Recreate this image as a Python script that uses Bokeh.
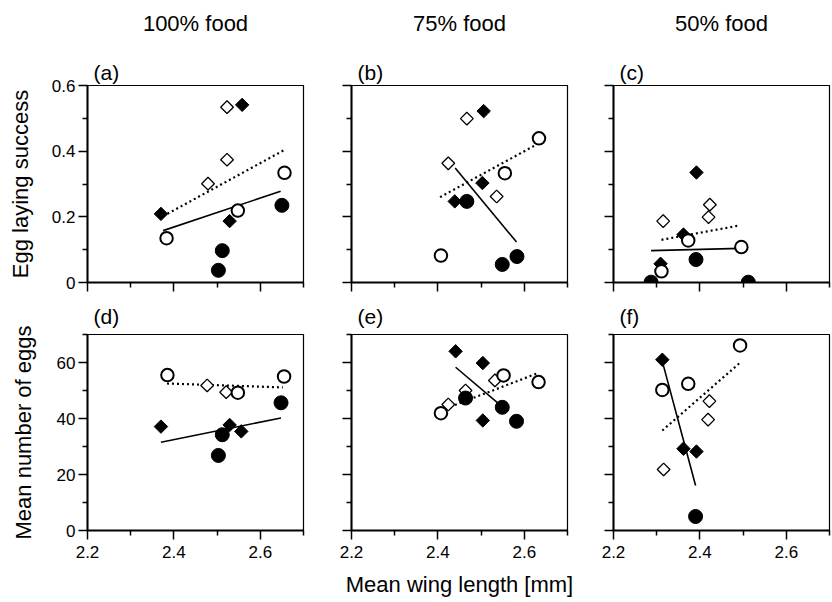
import math
from bokeh.plotting import figure
from bokeh.layouts import row, column
from bokeh.models import FixedTicker, Title
from bokeh.embed import file_html
from bokeh.resources import INLINE

FONT = "Liberation Sans"

# ---------------- text ----------------
col_titles = ["100% food", "75% food", "50% food"]
panel_labels = ["(a)", "(b)", "(c)", "(d)", "(e)", "(f)"]
y_titles = ["Egg laying success", "Mean number of eggs"]
x_title = "Mean wing length [mm]"

# ---------------- ticks ----------------
x_ticks = [2.2, 2.4, 2.6]
x_minor = [2.3, 2.5, 2.7]
top_y_ticks = [0, 0.2, 0.4, 0.6]
top_y_labels = ["0", "0.2", "0.4", "0.6"]
top_y_minor = [0.1, 0.3, 0.5]
bot_y_ticks = [0, 20, 40, 60]
bot_y_labels = ["0", "20", "40", "60"]
bot_y_minor = [10, 30, 50, 70]

# ---------------- data (oc = open circle, fc = filled circle,
#                  od = open diamond, fd = filled diamond,
#                  sl = solid fit line, dl = dotted fit line) ----------------
a_oc_x, a_oc_y = [2.383, 2.548, 2.656], [0.135, 0.219, 0.334]
a_fc_x, a_fc_y = [2.650, 2.512, 2.503], [0.235, 0.097, 0.037]
a_od_x, a_od_y = [2.523, 2.523, 2.479], [0.534, 0.374, 0.301]
a_fd_x, a_fd_y = [2.370, 2.558, 2.529], [0.209, 0.541, 0.187]
a_sl_x, a_sl_y = [2.375, 2.647], [0.158, 0.278]
a_dl_x, a_dl_y = [2.375, 2.659], [0.202, 0.406]

b_oc_x, b_oc_y = [2.634, 2.555, 2.407], [0.439, 0.333, 0.082]
b_fc_x, b_fc_y = [2.467, 2.549, 2.583], [0.247, 0.055, 0.079]
b_od_x, b_od_y = [2.467, 2.424, 2.536], [0.499, 0.363, 0.262]
b_fd_x, b_fd_y = [2.506, 2.503, 2.439], [0.522, 0.303, 0.247]
b_sl_x, b_sl_y = [2.440, 2.582], [0.349, 0.123]
b_dl_x, b_dl_y = [2.405, 2.624], [0.260, 0.417]

c_oc_x, c_oc_y = [2.373, 2.496, 2.311], [0.128, 0.108, 0.034]
c_fc_x, c_fc_y = [2.391, 2.287, 2.512], [0.070, 0.001, 0.001]
c_od_x, c_od_y = [2.423, 2.420, 2.315], [0.237, 0.199, 0.187]
c_fd_x, c_fd_y = [2.392, 2.362, 2.309], [0.335, 0.146, 0.057]
c_sl_x, c_sl_y = [2.287, 2.494], [0.097, 0.104]
c_dl_x, c_dl_y = [2.311, 2.493], [0.130, 0.174]

d_oc_x, d_oc_y = [2.385, 2.548, 2.655], [55.5, 49.2, 55.0]
d_fc_x, d_fc_y = [2.648, 2.512, 2.503], [45.6, 34.2, 26.8]
d_od_x, d_od_y = [2.477, 2.521], [51.8, 49.4]
d_fd_x, d_fd_y = [2.370, 2.529, 2.556], [37.1, 37.7, 35.4]
d_sl_x, d_sl_y = [2.370, 2.648], [31.5, 40.2]
d_dl_x, d_dl_y = [2.384, 2.652], [52.5, 51.1]

e_oc_x, e_oc_y = [2.552, 2.633, 2.407], [55.4, 53.0, 41.9]
e_fc_x, e_fc_y = [2.464, 2.549, 2.582], [47.3, 44.0, 39.0]
e_od_x, e_od_y = [2.532, 2.464, 2.424], [53.6, 50.0, 45.0]
e_fd_x, e_fd_y = [2.441, 2.504, 2.504], [64.0, 59.8, 39.3]
e_sl_x, e_sl_y = [2.441, 2.552], [58.3, 43.8]
e_dl_x, e_dl_y = [2.407, 2.628], [42.9, 56.0]

f_oc_x, f_oc_y = [2.493, 2.373, 2.313], [66.1, 52.4, 50.2]
f_fc_x, f_fc_y = [2.390], [5.0]
f_od_x, f_od_y = [2.422, 2.419, 2.316], [46.2, 39.6, 21.8]
f_fd_x, f_fd_y = [2.313, 2.362, 2.392], [61.0, 29.2, 28.2]
f_sl_x, f_sl_y = [2.313, 2.390], [60.4, 16.1]
f_dl_x, f_dl_y = [2.313, 2.492], [35.7, 59.8]

panels = [
    (a_oc_x, a_oc_y, a_fc_x, a_fc_y, a_od_x, a_od_y, a_fd_x, a_fd_y, a_sl_x, a_sl_y, a_dl_x, a_dl_y),
    (b_oc_x, b_oc_y, b_fc_x, b_fc_y, b_od_x, b_od_y, b_fd_x, b_fd_y, b_sl_x, b_sl_y, b_dl_x, b_dl_y),
    (c_oc_x, c_oc_y, c_fc_x, c_fc_y, c_od_x, c_od_y, c_fd_x, c_fd_y, c_sl_x, c_sl_y, c_dl_x, c_dl_y),
    (d_oc_x, d_oc_y, d_fc_x, d_fc_y, d_od_x, d_od_y, d_fd_x, d_fd_y, d_sl_x, d_sl_y, d_dl_x, d_dl_y),
    (e_oc_x, e_oc_y, e_fc_x, e_fc_y, e_od_x, e_od_y, e_fd_x, e_fd_y, e_sl_x, e_sl_y, e_dl_x, e_dl_y),
    (f_oc_x, f_oc_y, f_fc_x, f_fc_y, f_od_x, f_od_y, f_fd_x, f_fd_y, f_sl_x, f_sl_y, f_dl_x, f_dl_y),
]

# ---------------- layout geometry ----------------
FRAME_W = 216
FRAME_H = [197, 196]
BORDER_L = [87, 24, 23]
BORDER_R = [24, 23, 2]
BORDER_T = [35, 39]
BORDER_B = [13, 70]
HEADER_H = 50


def style_axes(p, r, c):
    xa = p.xaxis[0]
    ya = p.yaxis[0]
    xa.ticker = FixedTicker(ticks=x_ticks, minor_ticks=x_minor)
    if r == 0:
        ya.ticker = FixedTicker(ticks=top_y_ticks, minor_ticks=top_y_minor)
        ylabels = top_y_labels
        yt = top_y_ticks
    else:
        ya.ticker = FixedTicker(ticks=bot_y_ticks, minor_ticks=bot_y_minor)
        ylabels = bot_y_labels
        yt = bot_y_ticks
    if c == 0:
        ya.major_label_overrides = {t: l for t, l in zip(yt, ylabels)}
        ya.axis_label = y_titles[r]
        ya.axis_label_standoff = 16 if r == 0 else 18
    else:
        ya.major_label_overrides = {t: "" for t in yt}
    if r == 0:
        xa.major_label_overrides = {t: "" for t in x_ticks}
    else:
        xa.major_label_overrides = {t: f"{t:.1f}" for t in x_ticks}
        if c == 1:
            xa.axis_label = x_title
            xa.axis_label_standoff = 11
    for ax in (xa, ya):
        ax.axis_line_width = 2
        ax.axis_line_color = "black"
        ax.major_tick_in = 0
        ax.major_tick_out = 9
        ax.minor_tick_in = 0
        ax.minor_tick_out = 5
        ax.major_tick_line_width = 1.5
        ax.minor_tick_line_width = 1.5
        ax.major_tick_line_color = "black"
        ax.minor_tick_line_color = "black"
        ax.major_label_standoff = 3
        ax.major_label_text_font = FONT
        ax.major_label_text_font_size = "17px"
        ax.major_label_text_color = "black"
        ax.axis_label_text_font = FONT
        ax.axis_label_text_font_size = "22px"
        ax.axis_label_text_font_style = "normal"
        ax.axis_label_text_color = "black"
    xa.major_label_standoff = 6


def make_header(c):
    h = figure(
        width=BORDER_L[c] + FRAME_W + BORDER_R[c], height=HEADER_H,
        x_range=(0, 1), y_range=(0, 1),
        output_backend="svg", toolbar_location=None,
        min_border_left=BORDER_L[c], min_border_right=BORDER_R[c],
        min_border_top=0, min_border_bottom=0,
        background_fill_color="white", border_fill_color="white",
    )
    h.axis.visible = False
    h.xgrid.visible = False
    h.ygrid.visible = False
    h.outline_line_color = None
    h.title.text = col_titles[c]
    h.title.align = "center"
    h.title.standoff = 16
    h.title.text_font = FONT
    h.title.text_font_size = "22px"
    h.title.text_font_style = "normal"
    h.title.text_color = "black"
    return h


def make_panel(idx):
    r, c = divmod(idx, 3)
    oc_x, oc_y, fc_x, fc_y, od_x, od_y, fd_x, fd_y, sl_x, sl_y, dl_x, dl_y = panels[idx]
    yr = (0, 0.6) if r == 0 else (0, 70)
    p = figure(
        width=BORDER_L[c] + FRAME_W + BORDER_R[c],
        height=BORDER_T[r] + FRAME_H[r] + BORDER_B[r],
        x_range=(2.2, 2.7), y_range=yr,
        output_backend="svg", toolbar_location=None,
        min_border_left=BORDER_L[c], min_border_right=BORDER_R[c],
        min_border_top=BORDER_T[r], min_border_bottom=BORDER_B[r],
        background_fill_color="white", border_fill_color="white",
    )
    p.xgrid.visible = False
    p.ygrid.visible = False
    p.outline_line_color = "black"
    p.outline_line_width = 1.2
    p.outline_line_alpha = 1.0
    style_axes(p, r, c)

    p.add_layout(Title(text=panel_labels[idx], align="left", offset=6,
                       standoff=3 if r == 0 else 13,
                       text_font=FONT, text_font_size="21px",
                       text_font_style="normal", text_color="black"), "above")

    p.line(sl_x, sl_y, line_color="black", line_width=1.6)
    p.line(dl_x, dl_y, line_color="black", line_width=2.2, line_dash="2 3")

    p.scatter(fd_x, fd_y, marker="square", angle=math.pi / 4, size=9.5,
              fill_color="black", line_color="black", line_width=1)
    p.scatter(od_x, od_y, marker="square", angle=math.pi / 4, size=9,
              fill_color="white", line_color="black", line_width=1.3)
    p.scatter(fc_x, fc_y, marker="circle", size=14,
              fill_color="black", line_color="black", line_width=1)
    p.scatter(oc_x, oc_y, marker="circle", size=12.5,
              fill_color="white", line_color="black", line_width=2)
    return p


headers = [make_header(c) for c in range(3)]
figs = [make_panel(i) for i in range(6)]
layout = column(row(*headers), row(*figs[:3]), row(*figs[3:]))

open("out.html", "w").write(file_html(layout, INLINE))
